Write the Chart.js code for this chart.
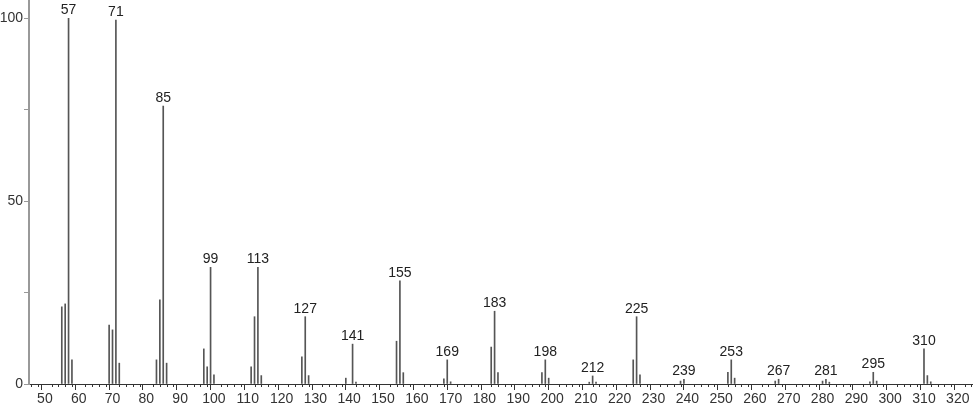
<!DOCTYPE html>
<html>
<head>
<meta charset="utf-8">
<script src="https://cdn.jsdelivr.net/npm/chart.js@4.4.0/dist/chart.umd.min.js"></script>
<style>
  html, body { margin: 0; padding: 0; background: #fff; }
  #wrap { width: 974px; height: 406px; }
</style>
</head>
<body>
<div id="wrap"><canvas id="spectrum" width="974" height="406"></canvas></div>
<script>
// m/z values and relative intensities
const mz = [55, 56, 57, 58, 69, 70, 71, 72, 83, 84, 85, 86, 97, 98, 99, 100,
    111, 112, 113, 114, 126, 127, 128, 139, 141, 142, 154, 155, 156, 168, 169, 170,
    182, 183, 184, 197, 198, 199, 211, 212, 213, 224, 225, 226, 238, 239,
    252, 253, 254, 266, 267, 280, 281, 282, 294, 295, 296, 310, 311, 312];
const intensity = [21.1, 21.9, 100, 6.6, 16.1, 14.8, 99.5, 5.7, 6.6, 23, 76, 5.7, 9.6, 4.7, 31.9, 2.5,
    4.7, 18.4, 31.9, 2.3, 7.4, 18.4, 2.3, 1.6, 10.9, 0.5, 11.7, 28.2, 3.1, 1.4, 6.6, 0.6,
    10.1, 19.9, 3.1, 3.1, 6.6, 1.6, 0.5, 2.2, 0.5, 6.6, 18.4, 2.5, 0.8, 1.3,
    3.2, 6.6, 1.6, 0.8, 1.3, 0.8, 1.3, 0.5, 0.6, 3.2, 0.8, 9.6, 2.3, 0.6];
const labeledPeaks = [57, 71, 85, 99, 113, 127, 141, 155, 169, 183, 198, 212, 225, 239, 253, 267, 281, 295, 310];
const yTicks = [0, 25, 50, 75, 100];

const points = mz.map((m, i) => ({ x: m, y: intensity[i] }));

// m/z labels above the main peaks
const peakLabels = {
    id: 'peakLabels',
    afterDatasetsDraw(chart) {
        const meta = chart.getDatasetMeta(0);
        const c = chart.ctx;
        c.save();
        c.font = '14px "Liberation Sans", Arial, sans-serif';
        c.fillStyle = '#222';
        c.textAlign = 'center';
        c.textBaseline = 'alphabetic';
        labeledPeaks.forEach(p => {
            const i = mz.indexOf(p);
            if (i < 0) return;
            const el = meta.data[i];
            c.fillText(String(p), el.x, el.y - 4);
        });
        c.restore();
    }
};

// short minor ticks on the x axis
const minorTicks = {
    id: 'minorTicks',
    afterDraw(chart) {
        const sx = chart.scales.x;
        const base = chart.chartArea.bottom;
        const c = chart.ctx;
        c.save();
        c.strokeStyle = '#333';
        c.lineWidth = 1;
        sx.ticks.forEach(t => {
            if (t.value % 10 === 0) return;
            const px = Math.round(sx.getPixelForValue(t.value)) + 0.5;
            c.beginPath();
            c.moveTo(px, base);
            c.lineTo(px, base + 3);
            c.stroke();
        });
        c.restore();
    }
};

new Chart(document.getElementById('spectrum'), {
    type: 'bar',
    data: {
        datasets: [{
            data: points,
            backgroundColor: '#555',
            barThickness: 1,
            borderWidth: 0
        }]
    },
    options: {
        responsive: false,
        animation: false,
        layout: { padding: { top: 0, right: 2, left: 0, bottom: 0 } },
        plugins: {
            legend: { display: false },
            tooltip: { enabled: false }
        },
        scales: {
            x: {
                type: 'linear',
                offset: false,
                min: 45.3,
                max: 324.2,
                afterBuildTicks(scale) {
                    const ticks = [];
                    for (let v = 46; v <= 324; v += 2) ticks.push({ value: v });
                    scale.ticks = ticks;
                },
                afterFit(scale) { scale.height = 22; },
                grid: {
                    drawOnChartArea: false,
                    drawTicks: true,
                    tickLength: 6,
                    tickColor: ctx => (ctx.tick && ctx.tick.value % 10 === 0) ? '#333' : 'rgba(0,0,0,0)'
                },
                border: { color: '#333', width: 1 },
                ticks: {
                    autoSkip: false,
                    maxRotation: 0,
                    padding: 1,
                    color: '#333',
                    font: { family: '"Liberation Sans", Arial, sans-serif', size: 14 },
                    callback: v => (v % 10 === 0 ? String(v) : '')
                }
            },
            y: {
                min: 0,
                max: 105,
                afterBuildTicks(scale) {
                    scale.ticks = yTicks.map(v => ({ value: v }));
                },
                afterFit(scale) {
                    scale.width = 29;
                    scale.paddingTop = 0;
                    scale.paddingBottom = 0;
                },
                grid: {
                    drawOnChartArea: false,
                    drawTicks: true,
                    tickLength: 5,
                    tickColor: '#999'
                },
                border: { color: '#999', width: 2 },
                ticks: {
                    padding: 1,
                    color: '#333',
                    font: { family: '"Liberation Sans", Arial, sans-serif', size: 14 },
                    callback: v => (v % 50 === 0 ? String(v) : '')
                }
            }
        }
    },
    plugins: [peakLabels, minorTicks]
});
</script>
</body>
</html>
